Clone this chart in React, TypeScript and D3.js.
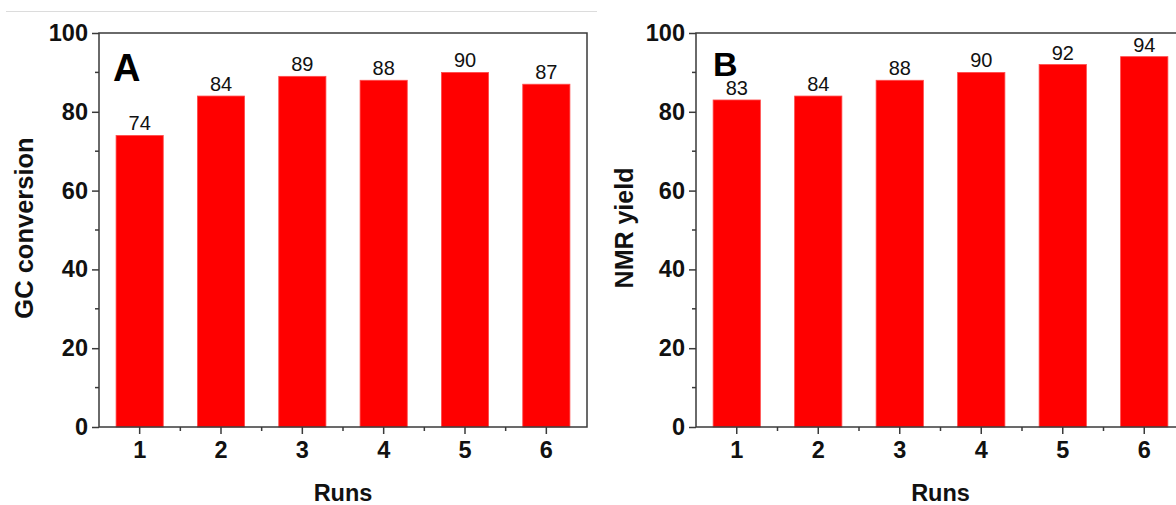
import React, { useEffect, useRef } from 'react';
import * as d3 from 'd3';

const runs = ['1', '2', '3', '4', '5', '6'];
const gcConversion = [74, 84, 89, 88, 90, 87];
const nmrYield = [83, 84, 88, 90, 92, 94];
const yTicks = [0, 20, 40, 60, 80, 100];
const yMinorTicks = [10, 30, 50, 70, 90];

interface PanelSpec {
  letter: string;
  letterSize: number;
  letterDx: number;
  letterY: number;
  yTitle: string;
  values: number[];
  left: number;
  right: number;
  titleX: number;
  titleSize: number;
}

const panels: PanelSpec[] = [
  { letter: 'A', letterSize: 38, letterDx: 14, letterY: 81, yTitle: 'GC conversion', values: gcConversion, left: 99, right: 587, titleX: 24, titleSize: 25.5 },
  { letter: 'B', letterSize: 34, letterDx: 17, letterY: 76, yTitle: 'NMR yield', values: nmrYield, left: 696, right: 1185, titleX: 624, titleSize: 25 },
];

const FONT = '"Liberation Sans", Arial, sans-serif';
const AXIS = '#3a3a3a';

const App: React.FC = () => {
  const svgRef = useRef<SVGSVGElement | null>(null);

  useEffect(() => {
    if (!svgRef.current) return;
    const svg = d3.select(svgRef.current);
    svg.selectAll('*').remove();

    const top = 33;
    const bottom = 427;

    // faint rule across the top of panel A
    svg.append('line')
      .attr('x1', 6).attr('x2', 597)
      .attr('y1', 11.5).attr('y2', 11.5)
      .attr('stroke', '#dcdcdc')
      .attr('stroke-width', 1);

    panels.forEach((p) => {
      const x = d3.scaleBand<string>()
        .domain(runs)
        .range([p.left, p.right])
        .paddingInner(0.42)
        .paddingOuter(0.21);
      const y = d3.scaleLinear().domain([0, 100]).range([bottom, top]);
      const g = svg.append('g');

      // bars
      g.selectAll('rect.bar')
        .data(p.values)
        .enter()
        .append('rect')
        .attr('class', 'bar')
        .attr('x', (_, i) => x(runs[i]) as number)
        .attr('y', (d) => y(d))
        .attr('width', x.bandwidth())
        .attr('height', (d) => y(0) - y(d))
        .attr('fill', '#ff0000')
        .attr('stroke', '#ff4d4d')
        .attr('stroke-width', 0.8);

      // value labels
      g.selectAll('text.val')
        .data(p.values)
        .enter()
        .append('text')
        .attr('class', 'val')
        .attr('x', (_, i) => (x(runs[i]) as number) + x.bandwidth() / 2)
        .attr('y', (d) => y(d) - 5)
        .attr('text-anchor', 'middle')
        .attr('font-family', FONT)
        .attr('font-size', 20)
        .attr('fill', '#111')
        .text((d) => d);

      // y axis
      const yAxis = g.append('g')
        .attr('transform', `translate(${p.left},0)`)
        .call(d3.axisLeft(y).tickValues(yTicks).tickSize(7).tickPadding(4));
      yAxis.select('.domain').remove();
      yAxis.selectAll('line').attr('stroke', AXIS).attr('stroke-width', 1.5);
      yAxis.selectAll('text')
        .attr('font-family', FONT)
        .attr('font-weight', 'bold')
        .attr('font-size', 23.5)
        .attr('fill', '#111');

      g.selectAll('line.yminor')
        .data(yMinorTicks)
        .enter()
        .append('line')
        .attr('class', 'yminor')
        .attr('x1', p.left - 4).attr('x2', p.left)
        .attr('y1', (d) => y(d)).attr('y2', (d) => y(d))
        .attr('stroke', AXIS).attr('stroke-width', 1.5);

      // x axis
      const xAxis = g.append('g')
        .attr('transform', `translate(0,${bottom})`)
        .call(d3.axisBottom(x).tickSize(7).tickPadding(7));
      xAxis.select('.domain').remove();
      xAxis.selectAll('line').attr('stroke', AXIS).attr('stroke-width', 1.5);
      xAxis.selectAll('text')
        .attr('font-family', FONT)
        .attr('font-weight', 'bold')
        .attr('font-size', 23.5)
        .attr('fill', '#111');

      g.selectAll('line.xminor')
        .data(runs.slice(1))
        .enter()
        .append('line')
        .attr('class', 'xminor')
        .attr('x1', (d) => (x(d) as number) - x.step() * 0.21)
        .attr('x2', (d) => (x(d) as number) - x.step() * 0.21)
        .attr('y1', bottom).attr('y2', bottom + 4)
        .attr('stroke', AXIS).attr('stroke-width', 1.5);

      // frame
      g.append('rect')
        .attr('x', p.left).attr('y', top)
        .attr('width', p.right - p.left).attr('height', bottom - top)
        .attr('fill', 'none')
        .attr('stroke', AXIS)
        .attr('stroke-width', 1.5);

      // panel letter
      g.append('text')
        .attr('x', p.left + p.letterDx)
        .attr('y', p.letterY)
        .attr('font-family', FONT)
        .attr('font-weight', 'bold')
        .attr('font-size', p.letterSize)
        .attr('fill', '#000')
        .text(p.letter);

      // axis titles
      g.append('text')
        .attr('transform', `translate(${p.titleX},${(top + bottom) / 2 - 2}) rotate(-90)`)
        .attr('text-anchor', 'middle')
        .attr('dy', '0.35em')
        .attr('font-family', FONT)
        .attr('font-weight', 'bold')
        .attr('font-size', p.titleSize)
        .attr('fill', '#111')
        .text(p.yTitle);

      g.append('text')
        .attr('x', (p.left + p.right) / 2)
        .attr('y', 501)
        .attr('text-anchor', 'middle')
        .attr('font-family', FONT)
        .attr('font-weight', 'bold')
        .attr('font-size', 23.5)
        .attr('fill', '#111')
        .text('Runs');
    });
  }, []);

  return (
    <div style={{ position: 'absolute', left: 0, top: 0, background: '#fff' }}>
      <svg ref={svgRef} width={1176} height={505} style={{ display: 'block' }} />
    </div>
  );
};

export default App;
